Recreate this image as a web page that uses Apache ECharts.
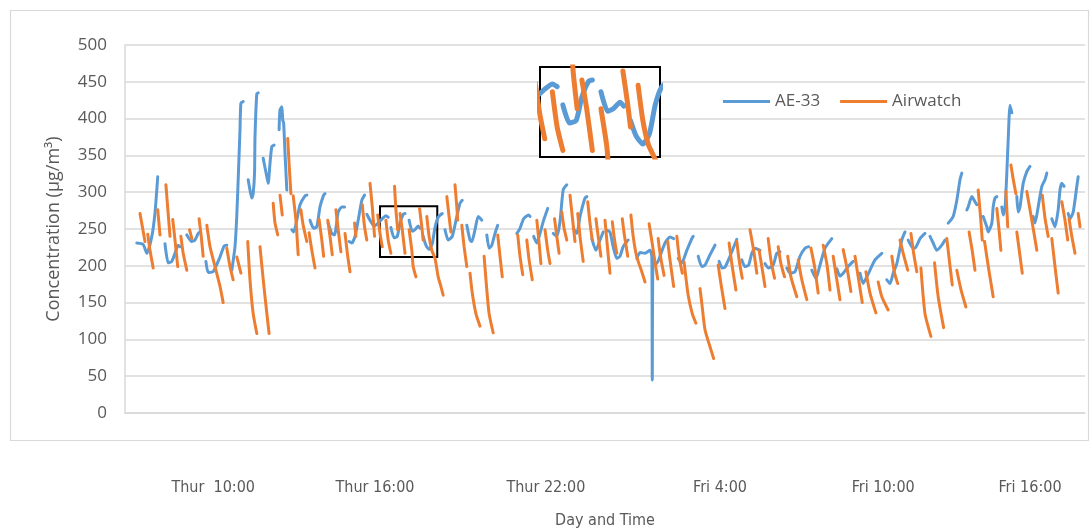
<!DOCTYPE html>
<html>
<head>
<meta charset="utf-8">
<title>AE-33 vs Airwatch</title>
<script src="https://cdn.jsdelivr.net/npm/echarts@6/dist/echarts.min.js"></script>
<style>
  html, body { margin: 0; padding: 0; background: #fff; }
  #chart { width: 1091px; height: 531px; }
</style>
</head>
<body>
<div id="chart"></div>
<script>
// Time axis: minutes elapsed since Thursday 06:00.
const tickMinutes = [240, 596, 972, 1355, 1714, 2037];
const tickLabels = ['Thur  10:00', 'Thur 16:00', 'Thur 22:00', 'Fri 4:00', 'Fri 10:00', 'Fri 16:00'];
const yTicks = { min: 0, max: 500, step: 50 };

// Window magnified in the detail panel (minutes, µg/m³).
const detailWindow = { from: 607, to: 733, low: 212, high: 281 };

// AE-33 readings, one array per continuous logging run: [minute, µg/m³].
const ae33Runs = [
  [[72,231],[86,229],[94,217],[105,240],[112,272],[118,321]],
  [[134,230],[141,204],[149,206],[156,217],[163,228],[167,226]],
  [[182,242],[193,233],[200,235],[207,244],[211,246]],
  [[224,206],[229,191],[240,192],[255,212],[264,227],[270,228]],
  [[281,194],[288,226],[292,269],[295,317],[299,385],[301,421],[306,423]],
  [[317,317],[321,303],[325,292],[328,298],[331,326],[332,375],[336,434],[339,435]],
  [[350,346],[358,321],[361,312],[365,339],[369,362],[374,364]],
  [[385,385],[387,412],[391,416],[393,398],[395,394],[398,353],[402,303]],
  [[413,249],[417,246],[424,262],[431,283],[442,295],[446,296]],
  [[453,262],[461,251],[468,253],[475,280],[483,296],[486,298]],
  [[493,258],[501,244],[507,242],[515,273],[523,280],[529,280]],
  [[539,233],[545,231],[552,240],[559,262],[567,289],[573,296]],
  [[578,270],[585,262],[594,254],[603,258],[612,264],[620,268],[625,266]],
  [[631,252],[638,238],[645,240],[651,258],[658,270],[662,271]],
  [[671,262],[678,247],[684,249],[691,254],[695,251]],
  [[702,240],[708,228],[715,222],[722,230],[728,252],[735,266],[744,271]],
  [[750,249],[757,235],[766,240],[776,267],[783,285],[788,289]],
  [[798,255],[805,235],[809,233],[816,249],[823,267],[831,262]],
  [[842,242],[847,224],[853,228],[860,244],[866,255]],
  [[908,244],[915,251],[923,264],[934,269],[937,267]],
  [[945,240],[952,231],[959,244],[967,262],[976,278]],
  [[988,244],[996,240],[1003,260],[1010,303],[1018,310]],
  [[1032,251],[1040,244],[1047,267],[1058,292],[1062,294]],
  [[1073,237],[1082,221],[1091,235],[1098,246]],
  [[1107,248],[1113,246],[1120,226],[1128,210],[1135,213],[1142,226],[1150,233],[1153,235]],
  [[1172,210],[1179,218],[1190,217],[1201,221],[1205,213],[1206,45],[1208,208],[1216,203],[1223,213],[1234,231],[1245,239],[1253,237]],
  [[1263,210],[1271,204],[1282,221],[1293,237],[1296,240]],
  [[1307,213],[1315,199],[1322,201],[1333,215],[1344,228]],
  [[1353,206],[1360,197],[1366,198],[1377,213],[1392,236]],
  [[1403,208],[1410,199],[1418,201],[1425,217],[1432,224],[1443,221]],
  [[1454,203],[1462,197],[1472,201],[1480,217],[1487,219]],
  [[1502,197],[1509,190],[1520,192],[1531,213],[1542,224],[1550,226]],
  [[1557,194],[1566,183],[1575,201],[1586,224],[1601,237]],
  [[1612,196],[1619,186],[1626,190],[1637,199],[1648,206]],
  [[1663,190],[1670,176],[1678,185],[1685,194],[1696,208],[1711,217]],
  [[1722,181],[1729,176],[1736,190],[1744,203],[1755,235],[1762,246]],
  [[1769,235],[1777,226],[1784,224],[1795,237],[1806,244]],
  [[1817,240],[1824,231],[1832,221],[1843,228],[1850,235]],
  [[1857,258],[1868,267],[1876,289],[1883,317],[1887,326]],
  [[1898,276],[1901,280],[1909,294],[1916,287],[1920,283]],
  [[1934,267],[1942,253],[1945,246],[1953,258],[1956,280],[1960,292],[1964,294]],
  [[1975,280],[1978,269],[1982,278],[1986,326],[1989,371],[1993,418],[1997,408]],
  [[2008,294],[2011,273],[2015,280],[2022,312],[2030,328],[2037,335]],
  [[2044,267],[2048,258],[2055,280],[2063,308],[2070,317],[2074,326]],
  [[2085,264],[2092,253],[2099,276],[2103,303],[2107,312],[2112,308]],
  [[2121,271],[2125,264],[2132,273],[2140,308],[2143,321]]
];

// Airwatch readings, one array per filter cycle: [minute, µg/m³].
const airwatchRuns = [
  [[79,271],[90,233]],
  [[96,243],[101,221],[108,197]],
  [[118,276],[123,242]],
  [[136,310],[141,271],[145,240]],
  [[151,263],[156,235],[162,199]],
  [[169,240],[174,217],[182,194]],
  [[188,249],[193,237]],
  [[209,264],[213,244],[218,213]],
  [[226,255],[233,226],[244,199],[255,172],[262,150]],
  [[270,224],[277,199],[284,181]],
  [[292,212],[301,190]],
  [[316,233],[321,181],[328,135],[336,108]],
  [[343,226],[348,194],[354,158],[363,108]],
  [[372,285],[376,258],[382,242]],
  [[387,296],[392,269]],
  [[404,373],[407,339],[411,298]],
  [[416,295],[422,262],[427,215]],
  [[433,276],[438,255],[446,233]],
  [[451,245],[457,221],[464,197]],
  [[473,263],[479,235],[483,213]],
  [[492,262],[497,240],[502,215]],
  [[510,276],[515,249],[521,219]],
  [[530,244],[536,213],[541,192]],
  [[551,258],[554,240]],
  [[568,283],[573,253],[578,235]],
  [[585,312],[590,280],[595,240]],
  [[602,269],[607,244],[612,226]],
  [[620,262],[625,235],[631,217]],
  [[639,308],[642,276],[646,249]],
  [[651,271],[656,249],[662,217]],
  [[671,249],[677,221],[680,199],[686,185]],
  [[694,278],[699,253],[702,235]],
  [[710,267],[715,240],[721,221],[728,210],[735,185],[741,172],[746,160]],
  [[754,294],[759,267],[763,246]],
  [[772,310],[776,280],[778,262]],
  [[787,255],[792,226],[798,199]],
  [[805,190],[810,163],[818,135],[827,118]],
  [[836,213],[842,167],[847,135],[856,109]],
  [[866,242],[871,213],[876,185]],
  [[910,242],[915,213],[921,188]],
  [[930,235],[935,208],[942,181]],
  [[952,262],[957,231],[961,203]],
  [[970,249],[976,221],[981,203]],
  [[991,264],[996,240],[1001,217]],
  [[1007,273],[1012,251],[1018,235]],
  [[1025,296],[1030,267],[1036,233]],
  [[1042,271],[1047,240],[1054,206]],
  [[1064,287],[1069,258],[1074,235]],
  [[1082,264],[1087,240],[1093,213]],
  [[1102,262],[1108,221],[1113,190]],
  [[1118,260],[1123,235],[1128,217]],
  [[1140,264],[1145,240],[1152,213]],
  [[1159,269],[1164,240],[1170,217],[1175,206],[1183,192],[1190,178]],
  [[1199,257],[1206,230],[1212,205],[1218,182]],
  [[1219,237],[1224,213],[1232,187]],
  [[1240,233],[1245,208],[1253,172]],
  [[1260,240],[1265,213],[1272,190]],
  [[1276,205],[1285,160],[1294,135],[1302,122]],
  [[1311,169],[1315,149],[1322,113],[1333,90],[1341,74]],
  [[1351,201],[1357,176],[1366,142]],
  [[1375,231],[1381,203],[1390,167]],
  [[1392,233],[1397,208],[1404,183]],
  [[1421,249],[1429,221],[1436,190]],
  [[1441,221],[1447,199],[1454,172]],
  [[1461,237],[1467,208],[1475,183]],
  [[1483,226],[1489,203],[1497,185]],
  [[1504,213],[1511,185],[1524,158]],
  [[1527,208],[1535,181],[1546,154]],
  [[1555,224],[1563,199],[1571,163]],
  [[1582,228],[1590,203],[1597,167]],
  [[1604,213],[1612,181],[1619,154]],
  [[1626,222],[1635,195],[1643,165]],
  [[1652,213],[1660,181],[1668,150]],
  [[1676,192],[1685,163],[1698,136]],
  [[1703,178],[1711,158],[1725,140]],
  [[1733,213],[1739,190],[1746,176]],
  [[1751,235],[1758,217],[1768,194]],
  [[1775,244],[1781,217],[1788,192]],
  [[1797,197],[1806,135],[1819,104]],
  [[1827,204],[1835,158],[1847,116]],
  [[1854,237],[1860,205],[1866,174]],
  [[1876,194],[1885,168],[1896,144]],
  [[1903,246],[1910,220],[1916,194]],
  [[1923,303],[1928,268],[1932,235]],
  [[1937,233],[1946,196],[1956,158]],
  [[1964,278],[1969,248],[1973,221]],
  [[1984,301],[1988,253]],
  [[1995,337],[2000,318],[2006,298]],
  [[2008,246],[2014,218],[2020,190]],
  [[2030,301],[2041,262],[2052,221]],
  [[2064,296],[2070,265],[2077,240]],
  [[2085,237],[2092,199],[2099,163]],
  [[2107,287],[2114,262],[2120,235]],
  [[2123,264],[2129,240],[2136,217]],
  [[2143,271],[2147,253]]
];

const BLUE = '#5B9BD5';
const ORANGE = '#ED7D31';
const TEXT = '#595959';
const GRID = '#d9d9d9';
const SANS = '"Open Sans", "Segoe UI", sans-serif';
const NARROW = '"Liberation Sans Narrow", "DejaVu Sans Condensed", sans-serif';

// Join runs into one array, leaving an empty point between runs so the line breaks.
function joinRuns(runs) {
  const out = [];
  runs.forEach((run, i) => {
    if (i > 0) out.push([run[0][0], null]);
    run.forEach(p => out.push(p));
  });
  return out;
}

const ae33Data = joinRuns(ae33Runs);
const airwatchData = joinRuns(airwatchRuns);

function lineSeries(name, data, color, width, axisIndex, z) {
  return {
    name, type: 'line', data,
    xAxisIndex: axisIndex, yAxisIndex: axisIndex,
    showSymbol: false, symbol: 'none', connectNulls: false, smooth: 0.2,
    clip: true, z,
    itemStyle: { color },
    lineStyle: { color, width, cap: 'round', join: 'round' },
    emphasis: { disabled: true }
  };
}

const chart = echarts.init(document.getElementById('chart'), null, { renderer: 'canvas' });

chart.setOption({
  animation: false,
  backgroundColor: '#ffffff',
  textStyle: { fontFamily: SANS },
  graphic: [{
    type: 'rect', silent: true, z: -10,
    shape: { x: 10.5, y: 10.5, width: 1078, height: 430 },
    style: { fill: 'none', stroke: GRID, lineWidth: 1.2 }
  }],
  legend: {
    left: 718, top: 88,
    icon: 'rect', itemWidth: 47, itemHeight: 3, itemGap: 20,
    data: ['AE-33', 'Airwatch'],
    textStyle: { color: TEXT, fontSize: 17, fontFamily: SANS },
    selectedMode: false
  },
  grid: [
    { left: 125, top: 45, width: 960, height: 368, containLabel: false, outerBoundsMode: 'none' },
    { left: 540, top: 67, width: 120, height: 90, show: true, backgroundColor: '#ffffff',
      borderColor: '#000000', borderWidth: 2, z: 10, containLabel: false, outerBoundsMode: 'none' }
  ],
  xAxis: [
    {
      type: 'value', gridIndex: 0, min: 46, max: 2158,
      name: 'Day and Time', nameLocation: 'middle', nameGap: 100,
      nameTextStyle: { color: TEXT, fontSize: 16, fontFamily: NARROW },
      axisLine: { show: true, onZero: false, lineStyle: { color: GRID, width: 1.5 } },
      axisTick: { show: false },
      splitLine: { show: false },
      axisLabel: {
        customValues: tickMinutes,
        formatter: v => { const i = tickMinutes.indexOf(v); return i >= 0 ? tickLabels[i] : ''; },
        margin: 67, color: TEXT, fontSize: 16, fontFamily: NARROW
      }
    },
    { type: 'value', gridIndex: 1, min: detailWindow.from, max: detailWindow.to, show: false }
  ],
  yAxis: [
    {
      type: 'value', gridIndex: 0, min: yTicks.min, max: yTicks.max, interval: yTicks.step,
      name: 'Concentration (µg/m³)', nameLocation: 'middle', nameGap: 62,
      nameTextStyle: { color: TEXT, fontSize: 18, fontFamily: SANS },
      axisLine: { show: true, lineStyle: { color: GRID, width: 1.5 } },
      axisTick: { show: false },
      splitLine: { show: true, lineStyle: { color: GRID, width: 1.5 } },
      axisLabel: { color: TEXT, fontSize: 17, margin: 18, fontFamily: SANS }
    },
    { type: 'value', gridIndex: 1, min: detailWindow.low, max: detailWindow.high, show: false }
  ],
  series: [
    lineSeries('AE-33', ae33Data, BLUE, 3, 0, 3),
    lineSeries('Airwatch', airwatchData, ORANGE, 3, 0, 3),
    {
      name: 'detail-frame', type: 'line', data: [], xAxisIndex: 0, yAxisIndex: 0, z: 6,
      markArea: {
        silent: true,
        itemStyle: { color: 'rgba(0,0,0,0)', borderColor: '#000000', borderWidth: 2 },
        label: { show: false },
        data: [[{ coord: [detailWindow.from, detailWindow.high] }, { coord: [detailWindow.to, detailWindow.low] }]]
      }
    },
    {
      name: 'detail-grid', type: 'line', data: [], xAxisIndex: 1, yAxisIndex: 1, z: 11,
      markLine: {
        silent: true, symbol: 'none', label: { show: false },
        lineStyle: { color: GRID, width: 2, type: 'solid' },
        data: [{ yAxis: 250 }]
      }
    },
    lineSeries('AE-33', ae33Data, BLUE, 5, 1, 12),
    lineSeries('Airwatch', airwatchData, ORANGE, 5, 1, 12)
  ]
});
</script>
</body>
</html>
